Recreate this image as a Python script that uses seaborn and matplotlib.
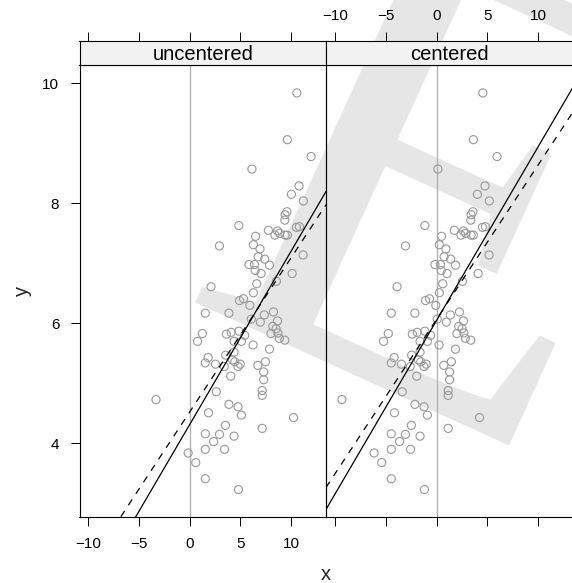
import pandas as pd
import seaborn as sns
import matplotlib.pyplot as plt

# points (uncentered x, y)
x_vals = [10.58, 9.64, 11.98, 6.15, 10.79, 10.04, 11.22, 9.60, 9.42, 9.39,
          4.86, 10.54, 10.83, 7.77, 8.67, 8.88, 8.42, 9.42, 9.64, 6.51,
          2.95, 6.29, 6.94, 6.76, 11.19, 7.41, 5.86, 6.40, 7.88, 6.47,
          7.05, 10.11, 8.56, 2.12, 6.62, 6.29, 4.93, 5.32, 5.94, 1.55,
          3.88, 8.27, 7.37, 6.08, 8.67, 6.98, 8.20, 8.53, 1.26, 3.63,
          4.10, 4.86, 5.43, 8.02, 8.71, 0.79, 4.39, 5.11, 8.85, 9.39,
          6.26, 7.88, 3.56, 4.39, 1.83, 1.55, 2.55, 4.24, 4.46, 5.00,
          3.42, 4.78, 6.73, 7.48, 7.30, 4.06, 7.30, 2.63, 7.16, 7.16,
          -3.31, 3.88, 4.78, 1.87, 5.11, 10.25, 3.53, 7.16, 1.55, 2.95,
          4.39, 2.37, 1.55, 3.45, -0.14, 0.61, 1.55, 4.82]
y_vals = [9.84, 9.06, 8.78, 8.57, 8.29, 8.15, 8.04, 7.86, 7.81, 7.72,
          7.63, 7.60, 7.61, 7.55, 7.54, 7.50, 7.47, 7.47, 7.47, 7.45,
          7.29, 7.31, 7.24, 7.11, 7.14, 7.07, 6.98, 6.98, 6.97, 6.88,
          6.83, 6.83, 6.70, 6.61, 6.66, 6.51, 6.38, 6.41, 6.30, 6.17,
          6.17, 6.19, 6.14, 6.07, 6.04, 6.02, 5.95, 5.91, 5.83, 5.82,
          5.85, 5.87, 5.80, 5.83, 5.84, 5.70, 5.70, 5.70, 5.75, 5.72,
          5.64, 5.57, 5.47, 5.52, 5.43, 5.34, 5.32, 5.39, 5.36, 5.32,
          5.28, 5.28, 5.30, 5.36, 5.19, 5.12, 5.06, 4.86, 4.88, 4.80,
          4.73, 4.65, 4.61, 4.51, 4.47, 4.43, 4.30, 4.25, 4.16, 4.15,
          4.12, 4.03, 3.90, 3.90, 3.84, 3.68, 3.41, 3.23]

panel_names = ["uncentered", "centered"]
x_ticks = [-10, -5, 0, 5, 10]
y_ticks = [4, 6, 8, 10]

# fitted lines on the uncentered scale: intercept at x = 0, slope
solid_fit = [4.31, 0.289]
dashed_fit = [4.52, 0.257]

W, H = 572, 583


def px_box(l, t, r, b):
    # pixel box -> figure fraction rect
    return [l / W, 1 - b / H, (r - l) / W, (b - t) / H]


sns.set_theme(style="white")
plt.rcParams['font.family'] = ['Liberation Sans', 'DejaVu Sans']

df = pd.DataFrame({"x": x_vals, "y": y_vals})
xbar = df["x"].mean()
df_c = df.assign(x=df["x"] - xbar)

fig = plt.figure(figsize=(W / 100, H / 100), dpi=100)

# watermark behind everything
fig.text(0.307, 0.482, "E", fontsize=471, family="Liberation Serif",
         color="#e6e6e6", rotation=-24.5, rotation_mode="anchor",
         ha="left", va="baseline", zorder=-1)

ax_l = fig.add_axes(px_box(79.5, 65, 326, 516.7))
ax_r = fig.add_axes(px_box(326, 65, 572.5, 516.7))
st_l = fig.add_axes(px_box(79.5, 40.7, 326, 65))
st_r = fig.add_axes(px_box(326, 40.7, 572.5, 65))

xlims = [(-10.85, 13.45), (-10.9, 13.4)]
tick_kw = dict(direction="out", length=6.5, width=0.7, pad=8,
               labelsize=11, color="black", labelcolor="black")

for i, (ax, st, data) in enumerate([(ax_l, st_l, df), (ax_r, st_r, df_c)]):
    ax.set_facecolor("none")
    ax.axvline(0, color="#b3b3b3", lw=1.0, zorder=1)
    sns.scatterplot(data=data, x="x", y="y", ax=ax, marker="o", s=34,
                    color="#999999", facecolors="none", edgecolor="#999999",
                    linewidth=0.8, zorder=2)
    shift = 0 if i == 0 else xbar
    a_s = solid_fit[0] + solid_fit[1] * shift
    a_d = dashed_fit[0] + dashed_fit[1] * shift
    ax.axline((0, a_s), slope=solid_fit[1], color="black", lw=0.9, zorder=3)
    ax.axline((0, a_d), slope=dashed_fit[1], color="black", lw=0.9,
              linestyle=(0, (5.5, 5.5)), zorder=3)
    ax.set_xlim(*xlims[i])
    ax.set_ylim(2.778, 10.305)
    ax.set_xlabel("")
    ax.set_ylabel("")
    ax.set_xticks(x_ticks)
    ax.set_yticks(y_ticks)
    ax.tick_params(axis="both", **tick_kw)
    ax.tick_params(axis="x", bottom=True, top=False, labelbottom=(i == 0))
    ax.tick_params(axis="y", left=(i == 0), right=False, labelleft=(i == 0))
    for sp in ax.spines.values():
        sp.set_color("black")
        sp.set_linewidth(0.8)

    # strip with the panel name, carrying the top ticks
    st.set_facecolor("#f2f2f2")
    st.set_xlim(*xlims[i])
    st.set_ylim(0, 1)
    st.set_xticks(x_ticks)
    st.set_yticks([])
    st.tick_params(axis="x", **tick_kw)
    st.tick_params(axis="x", bottom=False, labelbottom=False, top=True,
                   labeltop=(i == 1), pad=6.5)
    for sp in st.spines.values():
        sp.set_color("black")
        sp.set_linewidth(0.8)
    st.text(0.5, 0.45, panel_names[i], transform=st.transAxes,
            ha="center", va="center", fontsize=14.5, color="black")

fig.text(325.8 / W, 1 - 575 / H, "x", ha="center", va="center", fontsize=14.5)
fig.text(22 / W, 1 - 291 / H, "y", ha="center", va="center", fontsize=14.5,
         rotation=90)

fig.savefig("out.png", dpi=100)
